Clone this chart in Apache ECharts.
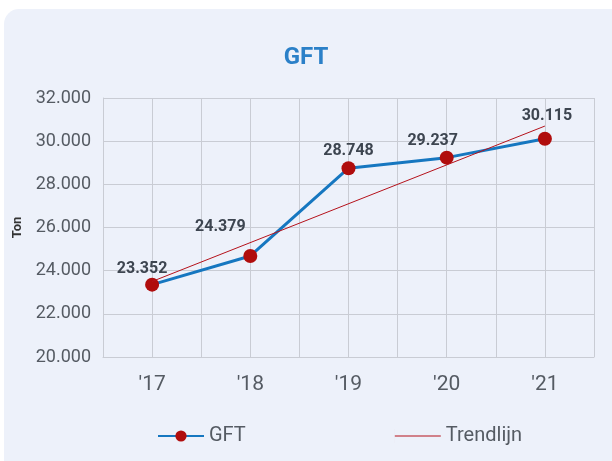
<!DOCTYPE html>
<html lang="nl">
<head>
    <meta charset="UTF-8">
    <title>GFT</title>
    <script src="https://cdn.jsdelivr.net/npm/echarts@6/dist/echarts.min.js"></script>
    <style>
        html, body { margin: 0; padding: 0; background: #fff; }
        #chart { width: 612px; height: 461px; }
    </style>
</head>
<body>
    <div id="chart"></div>
    <script>
        // data
        var years = ["'17", "'18", "'19", "'20", "'21"];
        var gftValues = [23352, 24680, 28748, 29237, 30115];
        var gftLabels = ['23.352', '24.379', '28.748', '29.237', '30.115'];
        var trendValues = [23500, null, null, null, 30700];
        var yTicks = [20000, 22000, 24000, 26000, 28000, 30000, 32000];

        // label offsets per punt
        var labelOffsets = [[-10, -16], [-30, -29], [0, -17], [-14, -17], [2, -23]];

        function fmt(v) {
            return String(v).replace(/\B(?=(\d{3})+(?!\d))/g, '.');
        }

        var chart = echarts.init(document.getElementById('chart'));
        var option = {
            animation: false,
            textStyle: { fontFamily: 'Roboto' },
            graphic: [{
                type: 'rect',
                z: -10,
                shape: { x: 4, y: 9, width: 640, height: 480, r: 15 },
                style: { fill: '#edf1fa' }
            }],
            title: {
                text: 'GFT',
                left: 'center',
                top: 41,
                textStyle: { color: '#2b80c8', fontSize: 24, fontWeight: 'bold', fontFamily: 'Roboto' }
            },
            legend: {
                left: 152,
                top: 421,
                itemWidth: 46,
                itemHeight: 14,
                itemGap: 149,
                textStyle: { color: '#555b63', fontSize: 20, fontFamily: 'Roboto' },
                data: [
                    { name: 'GFT' },
                    { name: 'Trendlijn', icon: 'path://M0,0h0.01v14h-0.01z M0,6.5h46v1h-46z' }
                ]
            },
            grid: { left: 103, right: 18, top: 98, bottom: 104 },
            xAxis: [{
                type: 'category',
                data: years,
                boundaryGap: true,
                axisTick: { show: false },
                axisLine: { show: true, lineStyle: { color: '#c9ccd4', width: 1 } },
                axisLabel: { color: '#555b63', fontSize: 21, margin: 17 },
                splitLine: { show: false }
            }, {
                type: 'value',
                min: 0,
                max: 10,
                interval: 1,
                show: true,
                position: 'bottom',
                axisLine: { show: false },
                axisTick: { show: false },
                axisLabel: { show: false },
                splitLine: { show: true, lineStyle: { color: '#c9ccd4', width: 1 } }
            }],
            yAxis: {
                type: 'value',
                name: 'Ton',
                nameLocation: 'middle',
                nameGap: 79,
                nameRotate: 90,
                nameTextStyle: { color: '#333', fontSize: 13, fontWeight: 'bold' },
                min: yTicks[0],
                max: yTicks[yTicks.length - 1],
                interval: 2000,
                axisLine: { show: true, lineStyle: { color: '#c9ccd4', width: 1 } },
                axisTick: { show: false },
                axisLabel: {
                    color: '#555b63',
                    fontSize: 18,
                    margin: 12,
                    formatter: function (v) { return fmt(v); }
                },
                splitLine: { show: true, lineStyle: { color: '#c9ccd4', width: 1 } }
            },
            series: [{
                name: 'Trendlijn',
                type: 'line',
                data: trendValues,
                connectNulls: true,
                showSymbol: false,
                symbol: 'none',
                lineStyle: { color: '#b5121b', width: 1 },
                itemStyle: { color: '#b5121b' },
                z: 3
            }, {
                name: 'GFT',
                type: 'line',
                data: gftValues.map(function (v, i) {
                    return {
                        value: v,
                        label: {
                            show: true,
                            position: 'inside',
                            offset: labelOffsets[i],
                            formatter: gftLabels[i]
                        }
                    };
                }),
                symbol: 'circle',
                symbolSize: 14,
                lineStyle: { color: '#1677c0', width: 3 },
                itemStyle: { color: '#b00d0d' },
                label: {
                    color: '#3d4550',
                    fontSize: 16,
                    fontWeight: 'bold'
                },
                z: 2
            }]
        };
        chart.setOption(option);
    </script>
</body>
</html>
